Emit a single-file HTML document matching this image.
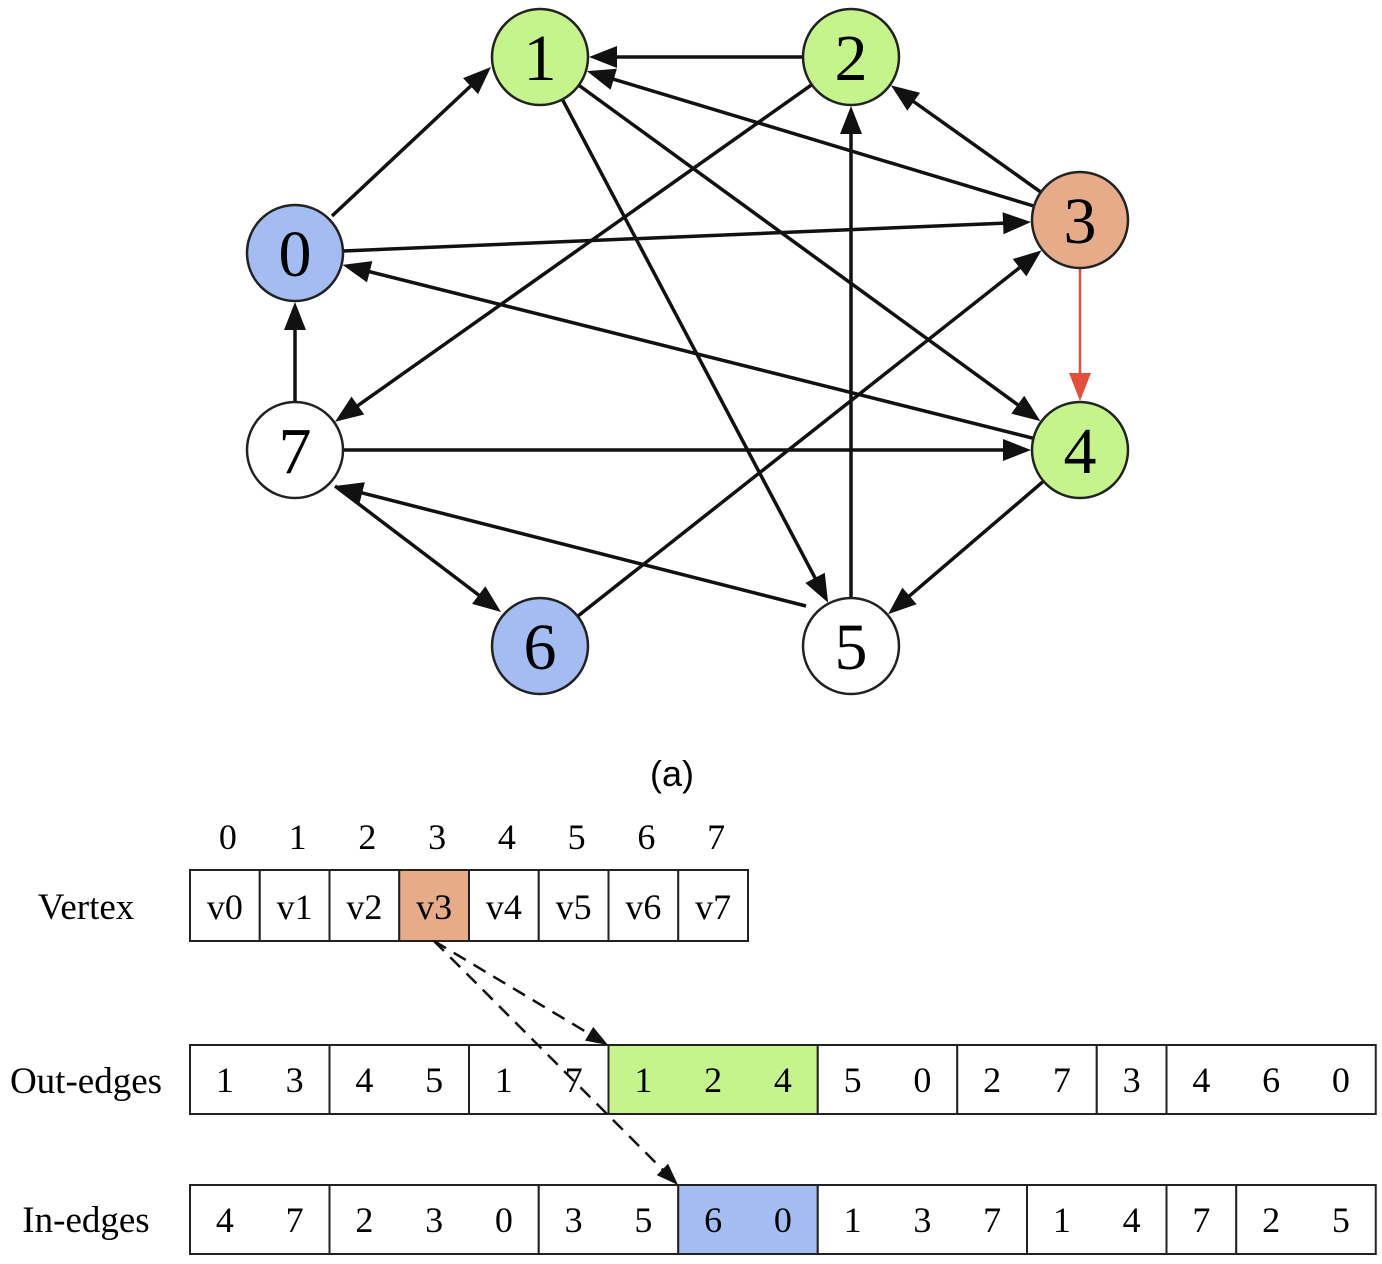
<!DOCTYPE html>
<html><head><meta charset="utf-8"><style>
html,body{margin:0;padding:0;background:#fff;width:1382px;height:1264px;overflow:hidden}
svg{display:block}
.s{font-family:"Liberation Serif",serif}
</style></head><body>
<svg id="g" width="1382" height="1264" viewBox="0 0 1382 1264" xmlns="http://www.w3.org/2000/svg">
<g id="edges"></g>
<g id="nodes"></g>
<text x="672" y="786" font-family="Liberation Sans, sans-serif" font-size="36" text-anchor="middle">(a)</text>
<g id="tbl" class="s"></g>
</svg>
<script>
var NS="http://www.w3.org/2000/svg";
function el(t,a,p,txt){var e=document.createElementNS(NS,t);for(var k in a)e.setAttribute(k,a[k]);if(txt!=null)e.textContent=txt;(p||document.getElementById('g')).appendChild(e);return e;}
var N={0:[295,253,'#a3bdf2'],1:[540,57,'#c6f48c'],2:[851,57,'#c6f48c'],3:[1080,220,'#e6ac8a'],4:[1080,450,'#c6f48c'],5:[851,646,'#fff'],6:[540,646,'#a3bdf2'],7:[295,450,'#fff']};
var R=48;
var E=[[1,4],[1,5],[2,1],[2,7],[3,1],[3,2],[3,4,'#e0503c'],[4,5],[4,0],[5,2],[6,3],[7,4],[7,0],[0,3]];
var eg=document.getElementById('edges');
function arrow(x1,y1,x2,y2,col,sw,L,W,dash){
 var dx=x2-x1,dy=y2-y1,d=Math.hypot(dx,dy),ux=dx/d,uy=dy/d;
 var bx=x2-ux*L,by=y2-uy*L;
 var a={x1:x1,y1:y1,x2:bx+ux*2,y2:by+uy*2,stroke:col,'stroke-width':sw};
 if(dash)a['stroke-dasharray']=dash;
 el('line',a,eg);
 el('polygon',{points:x2+','+y2+' '+(bx-uy*W)+','+(by+ux*W)+' '+(bx+uy*W)+','+(by-ux*W),fill:col},eg);
}
E.forEach(function(e){var a=N[e[0]],b=N[e[1]];var dx=b[0]-a[0],dy=b[1]-a[1],d=Math.hypot(dx,dy),ux=dx/d,uy=dy/d;
 var col=e[2]||'#111';
 arrow(a[0]+ux*R,a[1]+uy*R,b[0]-ux*(R+1),b[1]-uy*(R+1),col,e[2]?2.5:3.5,28,11);
});
arrow(332,216,491,67,'#111',3.5,28,11);
arrow(806,606,335,486,'#111',3.5,28,11);
arrow(335,486,501,612,'#111',3.5,28,11);
var ng=document.getElementById('nodes');
for(var k in N){var n=N[k];el('circle',{cx:n[0],cy:n[1],r:R,fill:n[2],stroke:'#222','stroke-width':2.5},ng);
 el('text',{x:n[0],y:n[1]+23,'text-anchor':'middle','font-family':'Liberation Serif, serif','font-size':66},ng,k);}
var t=document.getElementById('tbl');
var cw=69.75,x0=190;
el('text',{x:86,y:919,'font-size':37,'text-anchor':'middle'},t,'Vertex');
el('text',{x:86,y:1093,'font-size':37,'text-anchor':'middle'},t,'Out-edges');
el('text',{x:86,y:1232,'font-size':37,'text-anchor':'middle'},t,'In-edges');
for(var i=0;i<8;i++){var x=x0+i*cw;
 el('rect',{x:x,y:870,width:cw,height:71,fill:i==3?'#e6ac8a':'#fff',stroke:'#222','stroke-width':2},t);
 el('text',{x:x+cw/2,y:919,'font-size':36,'text-anchor':'middle'},t,'v'+i);
 el('text',{x:x+cw/2+3,y:849,'font-size':36,'text-anchor':'middle'},t,''+i);}
function row(y,groups,hi,hc){var idx=0;groups.forEach(function(g,gi){
 var x=x0+idx*cw;el('rect',{x:x,y:y,width:cw*g.length,height:69,fill:gi==hi?hc:'#fff',stroke:'#222','stroke-width':2},t);
 g.forEach(function(v,j){el('text',{x:x+j*cw+cw/2,y:y+47,'font-size':36,'text-anchor':'middle'},t,''+v);});idx+=g.length;});}
row(1045,[[1,3],[4,5],[1,7],[1,2,4],[5,0],[2,7],[3],[4,6,0]],3,'#c6f48c');
row(1185,[[4,7],[2,3,0],[3,5],[6,0],[1,3,7],[1,4],[7],[2,5]],3,'#a3bdf2');
eg=t;
arrow(434,941,608,1045,'#111',2.5,22,8,'14,9');
arrow(434,941,678,1185,'#111',2.5,22,8,'14,9');
</script>
</body></html>
